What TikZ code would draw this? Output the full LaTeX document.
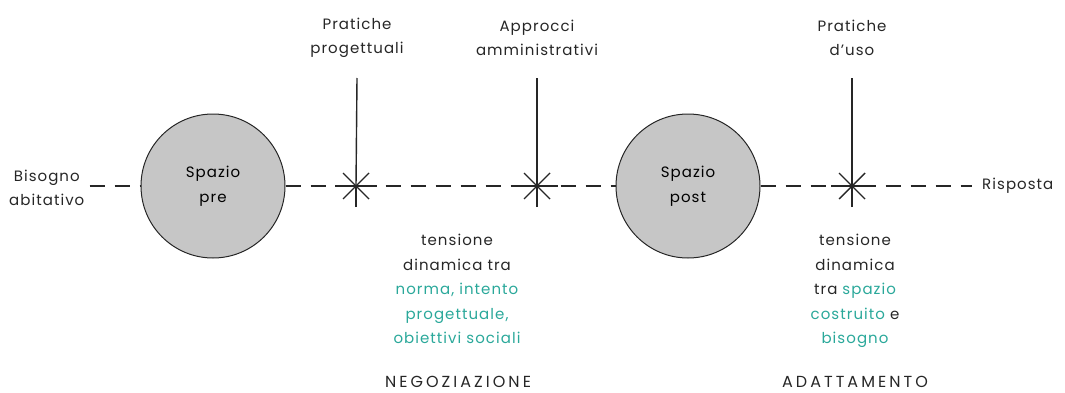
\documentclass[tikz,border=0pt]{standalone}
\usepackage{fontspec}
\setmainfont{Poppins}[LetterSpace=7]
\newfontfamily\capsfont{Poppins}[LetterSpace=19]
\definecolor{teal1}{HTML}{2AA89A}
\definecolor{disc}{HTML}{C6C6C6}
\tikzset{
  x=1pt, y=1pt,
  lbl/.style={align=center, font=\fontsize{15}{24.5}\selectfont, text=black!85, inner sep=0pt},
  caps/.style={lbl, font=\capsfont\fontsize{16}{24.5}\selectfont},
  space/.style={circle, draw=black!85, line width=1pt, fill=disc, minimum size=144pt, inner sep=0pt, align=center, font=\fontsize{15}{24.5}\selectfont},
  axis/.style={line width=1.4pt, black!85, dash pattern=on 15pt off 10pt},
  stem/.style={line width=1.4pt, black!85},
}
\newcommand{\asterisk}[1]{%
  \draw[stem] ([xshift=-21pt]#1) -- ([xshift=21pt]#1);
  \draw[stem] ([yshift=-21pt]#1) -- (#1);
  \draw[stem] ([shift={(-13pt,-13pt)}]#1) -- ([shift={(13pt,13pt)}]#1);
  \draw[stem] ([shift={(-13pt,13pt)}]#1) -- ([shift={(13pt,-13pt)}]#1);
}
\begin{document}
\begin{tikzpicture}
\useasboundingbox (0,0) rectangle (1065,392);
% circles of the two spaces
\node[space] (pre) at (213,206) {Spazio\\pre};
\node[space] (post) at (688,206) {Spazio\\post};
% end labels
\node[lbl, anchor=west] (need) at (9,204) {Bisogno\\abitativo};
\node[lbl, anchor=west] (answer) at (982,206) {Risposta};
% points on the axis
\coordinate (s1) at (356,206);
\coordinate (s2) at (537,206);
\coordinate (s3) at (852,206);
% axis
\draw[axis] (need.east |- pre.west) ++(5,0) -- (pre.west);
\draw[axis] (pre.east) -- (post.west);
\draw[axis] (post.east) -- ([xshift=-10pt]answer.west);
% labels above the axis
\node[lbl] (p1) at (357,354) {Pratiche\\progettuali};
\node[lbl] (p2) at (537,354) {Approcci\\amministrativi};
\node[lbl] (p3) at (852,354) {Pratiche\\d'uso};
\draw[stem] (p1.south |- 0,314) -- (s1);
\draw[stem] (p2.south |- 0,314) -- (s2);
\draw[stem] (p3.south |- 0,314) -- (s3);
\asterisk{s1}
\asterisk{s2}
\asterisk{s3}
% notes below the axis
\node[lbl, anchor=north] (n1) at (457,158) {tensione\\dinamica tra\\\textcolor{teal1}{norma, intento}\\\textcolor{teal1}{progettuale,}\\\textcolor{teal1}{obiettivi sociali}};
\node[caps] (k1) at (458,10) {NEGOZIAZIONE};
\node[lbl, anchor=north] (n2) at (855,158) {tensione\\dinamica\\tra \textcolor{teal1}{spazio}\\\textcolor{teal1}{costruito} e\\\textcolor{teal1}{bisogno}};
\node[caps] (k2) at (855,10) {ADATTAMENTO};
\end{tikzpicture}
\end{document}
